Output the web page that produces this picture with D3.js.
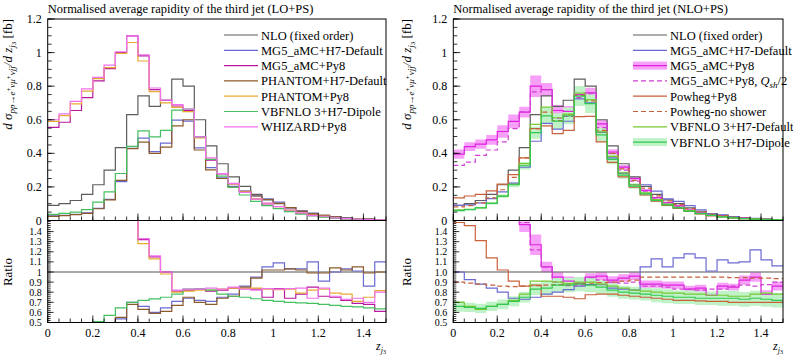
<!DOCTYPE html>
<html>
<head>
<meta charset="utf-8">
<script src="https://cdn.jsdelivr.net/npm/d3@7"></script>
<style>
  body { margin: 0; background: #fff; }
  text { font-family: "Liberation Serif", serif; fill: #000; }
</style>
</head>
<body>
<div id="chart"></div>
<script>
// bin edges of z_j3
const zEdges = [0,0.05,0.1,0.15,0.2,0.25,0.3,0.35,0.4,0.45,0.5,0.55,0.6,0.65,0.7,0.75,0.8,0.85,0.9,0.95,1,1.05,1.1,1.15,1.2,1.25,1.3,1.35,1.4,1.45,1.5];

// NLO fixed order (same in both panels)
const nlo = [0.09,0.10,0.119,0.155,0.213,0.30,0.434,0.63,0.742,0.68,0.716,0.842,0.80,0.60,0.444,0.338,0.26,0.203,0.155,0.123,0.10,0.075,0.055,0.04,0.03,0.021,0.015,0.011,0.008,0.005];

// LO+PS panel
const loMg5H7   = [0.027,0.03,0.036,0.045,0.072,0.126,0.232,0.44,0.49,0.41,0.461,0.598,0.592,0.432,0.315,0.254,0.203,0.175,0.147,0.129,0.109,0.077,0.057,0.044,0.027,0.021,0.0155,0.011,0.007,0.0055];
const loMg5Py8  = [0.555,0.585,0.655,0.732,0.832,0.905,1.0,1.10,0.98,0.78,0.716,0.682,0.656,0.498,0.36,0.277,0.218,0.17,0.129,0.092,0.0835,0.0555,0.043,0.034,0.0228,0.0158,0.0108,0.0076,0.0054,0.003];
const loPhH7    = [0.025,0.029,0.035,0.043,0.07,0.123,0.239,0.428,0.467,0.40,0.437,0.564,0.60,0.42,0.302,0.25,0.198,0.173,0.146,0.125,0.102,0.077,0.056,0.04,0.03,0.022,0.015,0.0115,0.008,0.005];
const loPhPy8   = [0.59,0.625,0.695,0.77,0.845,0.91,0.995,1.06,0.95,0.768,0.70,0.674,0.648,0.492,0.364,0.28,0.218,0.17,0.13,0.102,0.0825,0.062,0.0435,0.0328,0.0249,0.0166,0.0117,0.0078,0.006,0.004];
const loVbfDip  = [0.036,0.042,0.05,0.065,0.109,0.171,0.28,0.441,0.534,0.498,0.537,0.657,0.664,0.498,0.364,0.264,0.198,0.152,0.114,0.089,0.071,0.0525,0.038,0.0276,0.0204,0.014,0.0099,0.0072,0.0052,0.0032];
const loWhizard = [0.60,0.635,0.71,0.784,0.852,0.925,1.005,1.10,0.987,0.789,0.716,0.69,0.664,0.498,0.373,0.28,0.221,0.168,0.127,0.103,0.083,0.0626,0.046,0.0296,0.0252,0.016,0.011,0.0081,0.0056,0.004];

// LO+PS ratios to NLO
const rLoMg5H7   = [0.30,0.30,0.30,0.29,0.34,0.42,0.535,0.70,0.66,0.60,0.644,0.71,0.74,0.72,0.71,0.75,0.78,0.86,0.95,1.05,1.09,1.03,1.03,1.10,0.91,1.00,1.03,1.01,0.86,1.10];
const rLoMg5Py8  = [6.2,5.9,5.5,4.7,3.9,3.0,2.3,1.75,1.32,1.15,1.0,0.81,0.82,0.83,0.81,0.82,0.84,0.835,0.83,0.75,0.835,0.74,0.78,0.85,0.76,0.75,0.72,0.69,0.68,0.61];
const rLoPhH7    = [0.28,0.29,0.29,0.28,0.33,0.41,0.55,0.68,0.63,0.59,0.61,0.67,0.75,0.70,0.68,0.74,0.76,0.85,0.94,1.02,1.02,1.03,1.02,0.99,0.99,1.04,1.02,1.05,0.99,1.0];
const rLoPhPy8   = [6.5,6.2,5.8,5.0,4.0,3.0,2.3,1.68,1.28,1.13,0.98,0.80,0.81,0.82,0.82,0.83,0.84,0.835,0.84,0.83,0.825,0.83,0.79,0.82,0.83,0.79,0.78,0.71,0.75,0.815];
const rLoVbfDip  = [0.40,0.42,0.42,0.42,0.51,0.57,0.645,0.70,0.72,0.733,0.75,0.78,0.83,0.83,0.82,0.78,0.76,0.75,0.735,0.72,0.71,0.70,0.695,0.69,0.68,0.67,0.66,0.655,0.645,0.635];
const rLoWhizard = [6.7,6.3,6.0,5.1,4.0,3.1,2.3,1.75,1.33,1.16,1.0,0.82,0.83,0.83,0.84,0.83,0.85,0.83,0.82,0.835,0.83,0.835,0.84,0.74,0.84,0.76,0.73,0.74,0.70,0.80];

// NLO+PS panel
const nloMg5H7     = [0.09,0.0925,0.105,0.13,0.17,0.222,0.317,0.472,0.579,0.544,0.591,0.724,0.70,0.525,0.373,0.281,0.213,0.213,0.175,0.129,0.114,0.0885,0.0627,0.0404,0.0336,0.0229,0.0165,0.0134,0.009,0.0053];
const nloMg5Py8    = [0.395,0.44,0.455,0.48,0.53,0.59,0.645,0.80,0.78,0.655,0.65,0.75,0.76,0.576,0.408,0.318,0.25,0.179,0.136,0.107,0.087,0.062,0.046,0.031,0.026,0.018,0.0138,0.0105,0.0062,0.0043];
const bandMg5Py8   = [0.07,0.06,0.06,0.06,0.07,0.07,0.05,0.08,0.05,0.05,0.05,0.04,0.04,0.04,0.04,0.04,0.04,0.04,0.04,0.04,0.04,0.04,0.04,0.04,0.04,0.04,0.05,0.05,0.05,0.05];
const nloMg5Py8Half= [0.328,0.348,0.388,0.42,0.468,0.547,0.647,0.766,0.78,0.61,0.62,0.732,0.756,0.553,0.40,0.30,0.235,0.175,0.133,0.105,0.083,0.062,0.045,0.033,0.025,0.018,0.013,0.0095,0.007,0.0045];
const nloPwgPy8    = [0.135,0.146,0.156,0.177,0.217,0.273,0.373,0.548,0.564,0.517,0.537,0.619,0.62,0.468,0.346,0.26,0.198,0.152,0.115,0.09,0.072,0.054,0.039,0.028,0.021,0.0147,0.0105,0.0077,0.0056,0.0035];
const nloPwgNoSh   = [0.081,0.089,0.105,0.135,0.183,0.257,0.373,0.545,0.646,0.595,0.63,0.745,0.712,0.537,0.40,0.308,0.239,0.193,0.147,0.117,0.095,0.071,0.052,0.038,0.0285,0.0198,0.0142,0.0103,0.0075,0.0047];
const nloVbfDef    = [0.063,0.066,0.075,0.102,0.145,0.216,0.339,0.573,0.675,0.612,0.634,0.758,0.72,0.528,0.382,0.284,0.213,0.164,0.124,0.097,0.079,0.0585,0.043,0.031,0.023,0.016,0.0114,0.0086,0.0063,0.0039];
const nloVbfDip    = [0.059,0.065,0.076,0.102,0.145,0.213,0.326,0.523,0.623,0.592,0.623,0.741,0.696,0.51,0.364,0.27,0.205,0.158,0.119,0.093,0.075,0.056,0.041,0.030,0.022,0.0155,0.011,0.0081,0.0058,0.0036];
const bandVbfDip   = [0.08,0.07,0.07,0.07,0.07,0.07,0.07,0.07,0.08,0.08,0.08,0.08,0.08,0.08,0.08,0.08,0.08,0.08,0.09,0.09,0.09,0.09,0.09,0.09,0.1,0.1,0.1,0.1,0.1,0.1];

// NLO+PS ratios to NLO
const rMg5H7      = [1.0,0.925,0.88,0.84,0.80,0.74,0.73,0.75,0.78,0.80,0.825,0.86,0.875,0.875,0.84,0.83,0.82,1.05,1.13,1.05,1.14,1.18,1.14,1.01,1.12,1.09,1.10,1.22,1.12,1.06];
const rMg5Py8     = [4.39,4.4,3.82,3.1,2.49,1.97,1.47,1.27,1.05,0.95,0.91,0.89,0.95,0.96,0.92,0.94,0.96,0.88,0.88,0.87,0.87,0.83,0.84,0.77,0.86,0.85,0.92,0.95,0.78,0.86];
const rMg5Py8Half = [3.64,3.48,3.26,2.71,2.2,1.82,1.49,1.22,1.05,0.90,0.866,0.87,0.945,0.92,0.90,0.89,0.90,0.86,0.86,0.85,0.83,0.83,0.82,0.83,0.83,0.86,0.87,0.86,0.875,0.90];
const rPwgPy8     = [1.49,1.46,1.31,1.14,1.02,0.91,0.86,0.87,0.76,0.76,0.75,0.735,0.775,0.78,0.78,0.77,0.76,0.75,0.74,0.73,0.72,0.72,0.715,0.71,0.71,0.70,0.70,0.70,0.70,0.70];
const rPwgNoSh    = [0.90,0.89,0.88,0.87,0.86,0.855,0.86,0.865,0.87,0.875,0.88,0.885,0.89,0.895,0.90,0.91,0.92,0.95,0.95,0.95,0.95,0.95,0.95,0.95,0.95,0.945,0.945,0.94,0.94,0.935];
const rVbfDef     = [0.70,0.66,0.63,0.66,0.68,0.72,0.78,0.91,0.91,0.90,0.885,0.90,0.90,0.88,0.86,0.84,0.82,0.81,0.80,0.79,0.79,0.78,0.78,0.77,0.77,0.76,0.76,0.78,0.79,0.78];
const rVbfDip     = [0.66,0.65,0.64,0.66,0.68,0.71,0.75,0.83,0.84,0.87,0.87,0.88,0.87,0.85,0.82,0.80,0.79,0.78,0.77,0.76,0.75,0.75,0.74,0.74,0.74,0.74,0.73,0.74,0.73,0.72];

// axis ticks
const xMajor = [0,0.2,0.4,0.6,0.8,1,1.2,1.4];
const xMinor = zEdges;
const yMajor = [0,0.2,0.4,0.6,0.8,1,1.2];
const yMinor = [0,0.05,0.1,0.15,0.2,0.25,0.3,0.35,0.4,0.45,0.5,0.55,0.6,0.65,0.7,0.75,0.8,0.85,0.9,0.95,1,1.05,1.1,1.15,1.2];
const rMajor = [0.5,0.6,0.7,0.8,0.9,1,1.1,1.2,1.3,1.4];
const rMinor = d3.range(50, 151, 2).map(d => d / 100);

const W = 793, H = 357;
const svg = d3.select("#chart").append("svg")
    .attr("width", W)
    .attr("height", H);
const defs = svg.append("defs");

function steps(vals) {
    const pts = [];
    vals.forEach((v, i) => {
        pts.push([zEdges[i], v]);
        pts.push([zEdges[i + 1], v]);
    });
    return pts;
}

function drawPanel(p) {
    const x = d3.scaleLinear().domain([0, 1.5]).range([p.x0, p.x1]);
    const y = d3.scaleLinear().domain([0, 1.2]).range([220.5, 19]);
    const yr = d3.scaleLinear().domain([0.5, 1.5]).range([322.5, 221.5]);
    const g = svg.append("g");

    defs.append("clipPath").attr("id", "cm" + p.id).append("rect")
        .attr("x", p.x0).attr("y", 19).attr("width", p.x1 - p.x0).attr("height", 220.5 - 19);
    defs.append("clipPath").attr("id", "cr" + p.id).append("rect")
        .attr("x", p.x0).attr("y", 221.5).attr("width", p.x1 - p.x0).attr("height", 322.5 - 221.5);

    const gm = g.append("g").attr("clip-path", `url(#cm${p.id})`);
    const gr = g.append("g").attr("clip-path", `url(#cr${p.id})`);

    const line = d3.line().x(d => x(d[0])).y(d => y(d[1]));
    const lineR = d3.line().x(d => x(d[0])).y(d => yr(d[1]));

    // uncertainty bands
    p.series.filter(s => s.band).forEach(s => {
        const lo = s.main.map((v, i) => v * (1 - s.band[i]));
        const hi = s.main.map((v, i) => v * (1 + s.band[i]));
        const pl = steps(lo), ph = steps(hi);
        gm.append("path")
            .datum(pl.map((d, i) => [d[0], d[1], ph[i][1]]))
            .attr("fill", s.bandColor)
            .attr("d", d3.area().x(d => x(d[0])).y0(d => y(d[1])).y1(d => y(d[2])));
        const rlo = steps(s.ratio.map((v, i) => v * (1 - s.band[i])));
        const rhi = steps(s.ratio.map((v, i) => v * (1 + s.band[i])));
        gr.append("path")
            .datum(rlo.map((d, i) => [d[0], d[1], rhi[i][1]]))
            .attr("fill", s.bandColor)
            .attr("d", d3.area().x(d => x(d[0])).y0(d => yr(d[1])).y1(d => yr(d[2])));
    });

    // reference line at ratio 1
    gr.append("line")
        .attr("x1", p.x0).attr("x2", p.x1)
        .attr("y1", yr(1)).attr("y2", yr(1))
        .attr("stroke", "#555").attr("stroke-width", 1.2);

    p.series.forEach(s => {
        gm.append("path").datum(steps(s.main))
            .attr("fill", "none").attr("stroke", s.color).attr("stroke-width", 1.2)
            .attr("stroke-dasharray", s.dash ? "5,3" : null)
            .attr("d", line);
        if (s.ratio) {
            gr.append("path").datum(steps(s.ratio))
                .attr("fill", "none").attr("stroke", s.color).attr("stroke-width", 1.2)
                .attr("stroke-dasharray", s.dash ? "5,3" : null)
                .attr("d", lineR);
        }
    });

    // frames
    g.append("rect").attr("x", p.x0).attr("y", 19).attr("width", p.x1 - p.x0).attr("height", 220.5 - 19)
        .attr("fill", "none").attr("stroke", "#000").attr("stroke-width", 1);
    g.append("rect").attr("x", p.x0).attr("y", 220.5).attr("width", p.x1 - p.x0).attr("height", 322.5 - 220.5)
        .attr("fill", "none").attr("stroke", "#000").attr("stroke-width", 1);

    // ticks (inward)
    const tk = g.append("g").attr("stroke", "#000").attr("stroke-width", 0.8);
    const tick = (x1, y1, x2, y2) => tk.append("line").attr("x1", x1).attr("y1", y1).attr("x2", x2).attr("y2", y2);
    xMinor.forEach(v => { tick(x(v), 220.5, x(v), 216.5); tick(x(v), 322.5, x(v), 318.5); });
    xMajor.forEach(v => { tick(x(v), 220.5, x(v), 213.5); tick(x(v), 322.5, x(v), 315.5); });
    yMinor.forEach(v => tick(p.x0, y(v), p.x0 + 4, y(v)));
    yMajor.forEach(v => tick(p.x0, y(v), p.x0 + 7, y(v)));
    rMinor.forEach(v => tick(p.x0, yr(v), p.x0 + 3, yr(v)));
    rMajor.forEach(v => tick(p.x0, yr(v), p.x0 + 6, yr(v)));

    // tick labels
    xMajor.forEach(v => g.append("text").attr("x", x(v)).attr("y", 337)
        .attr("text-anchor", "middle").attr("font-size", 12).text(v));
    yMajor.forEach(v => g.append("text").attr("x", p.x0 - 6).attr("y", y(v) + 4)
        .attr("text-anchor", "end").attr("font-size", 12).text(v));
    rMajor.forEach(v => g.append("text").attr("x", p.x0 - 6).attr("y", yr(v) + 3.5)
        .attr("text-anchor", "end").attr("font-size", 10)
        .text(v === 1 ? p.oneLabel : v));

    // title
    g.append("text").attr("x", p.x0).attr("y", 13).attr("font-size", 12.5).text(p.title);

    // y axis label
    const yl = g.append("text")
        .attr("transform", `translate(${p.ylx},19) rotate(-90)`)
        .attr("text-anchor", "end").attr("font-size", 13);
    yl.append("tspan").attr("font-style", "italic").text("d σ");
    yl.append("tspan").attr("font-size", 9).attr("dy", 3).attr("font-style", "italic").text("pp→e");
    yl.append("tspan").attr("font-size", 7).attr("dy", -4).text("+");
    yl.append("tspan").attr("font-size", 9).attr("dy", 4).attr("font-style", "italic").text("νμ");
    yl.append("tspan").attr("font-size", 7).attr("dy", -4).text("+");
    yl.append("tspan").attr("font-size", 9).attr("dy", 4).attr("font-style", "italic").text("νjj");
    yl.append("tspan").attr("dy", -3).attr("font-style", "italic").text("/d z");
    yl.append("tspan").attr("font-size", 9).attr("dy", 3).attr("font-style", "italic").text("j");
    yl.append("tspan").attr("font-size", 7).attr("dy", 1).text("3");
    yl.append("tspan").attr("dy", -4).text(" [fb]");

    g.append("text")
        .attr("transform", `translate(${p.ylx},272) rotate(-90)`)
        .attr("text-anchor", "middle").attr("font-size", 13).text("Ratio");

    // x axis label
    const xl = g.append("text").attr("x", p.x1 - 10).attr("y", 350).attr("font-size", 12);
    xl.append("tspan").attr("font-style", "italic").text("z");
    xl.append("tspan").attr("font-size", 8).attr("dy", 3).attr("font-style", "italic").text("j");
    xl.append("tspan").attr("font-size", 6).attr("dy", 1).text("3");

    // legend
    const lg = g.append("g");
    p.series.forEach((s, i) => {
        const ly = 35 + i * 15.3;
        if (s.band) {
            lg.append("rect").attr("x", p.lx).attr("y", ly - 4).attr("width", 34).attr("height", 8)
                .attr("fill", s.bandColor);
        }
        lg.append("line").attr("x1", p.lx).attr("x2", p.lx + 34).attr("y1", ly).attr("y2", ly)
            .attr("stroke", s.color).attr("stroke-width", 1.2)
            .attr("stroke-dasharray", s.dash ? "5,3" : null);
        const t = lg.append("text").attr("x", p.lx + 37).attr("y", ly + 4.5).attr("font-size", 12.5);
        if (s.labelParts) {
            s.labelParts.forEach(part => {
                const ts = t.append("tspan").text(part.t);
                if (part.i) ts.attr("font-style", "italic");
                if (part.sub) ts.attr("font-size", 9).attr("dy", 3);
                if (part.up) ts.attr("dy", -3);
            });
        } else {
            t.text(s.label);
        }
    });
}

drawPanel({
    id: "L", x0: 47.7, x1: 386, lx: 224, ylx: 12, oneLabel: "1",
    title: "Normalised average rapidity of the third jet (LO+PS)",
    series: [
        { label: "NLO (fixed order)", main: nlo, color: "#5c5c5c" },
        { label: "MG5_aMC+H7-Default", main: loMg5H7, ratio: rLoMg5H7, color: "#6a6ad2" },
        { label: "MG5_aMC+Py8", main: loMg5Py8, ratio: rLoMg5Py8, color: "#b8189e" },
        { label: "PHANTOM+H7-Default", main: loPhH7, ratio: rLoPhH7, color: "#8c5a28" },
        { label: "PHANTOM+Py8", main: loPhPy8, ratio: rLoPhPy8, color: "#e8aa30" },
        { label: "VBFNLO 3+H7-Dipole", main: loVbfDip, ratio: rLoVbfDip, color: "#44c060" },
        { label: "WHIZARD+Py8", main: loWhizard, ratio: rLoWhizard, color: "#f070f0" }
    ]
});

drawPanel({
    id: "R", x0: 453.3, x1: 783, lx: 633, ylx: 411, oneLabel: "1.0",
    title: "Normalised average rapidity of the third jet (NLO+PS)",
    series: [
        { label: "NLO (fixed order)", main: nlo, color: "#5c5c5c" },
        { label: "MG5_aMC+H7-Default", main: nloMg5H7, ratio: rMg5H7, color: "#6a6ad2" },
        { label: "MG5_aMC+Py8", main: nloMg5Py8, ratio: rMg5Py8, color: "#e020e0",
          band: bandMg5Py8, bandColor: "#f7a0f7" },
        { labelParts: [{ t: "MG5_aMC+Py8, " }, { t: "Q", i: true }, { t: "sh", i: true, sub: true }, { t: "/2", up: true }],
          main: nloMg5Py8Half, ratio: rMg5Py8Half, color: "#d040d0", dash: true },
        { label: "Powheg+Py8", main: nloPwgPy8, ratio: rPwgPy8, color: "#c8603a" },
        { label: "Powheg-no shower", main: nloPwgNoSh, ratio: rPwgNoSh, color: "#c8603a", dash: true },
        { label: "VBFNLO 3+H7-Default", main: nloVbfDef, ratio: rVbfDef, color: "#78c832" },
        { label: "VBFNLO 3+H7-Dipole", main: nloVbfDip, ratio: rVbfDip, color: "#30c850",
          band: bandVbfDip, bandColor: "#bff2c6" }
    ]
});
</script>
</body>
</html>
